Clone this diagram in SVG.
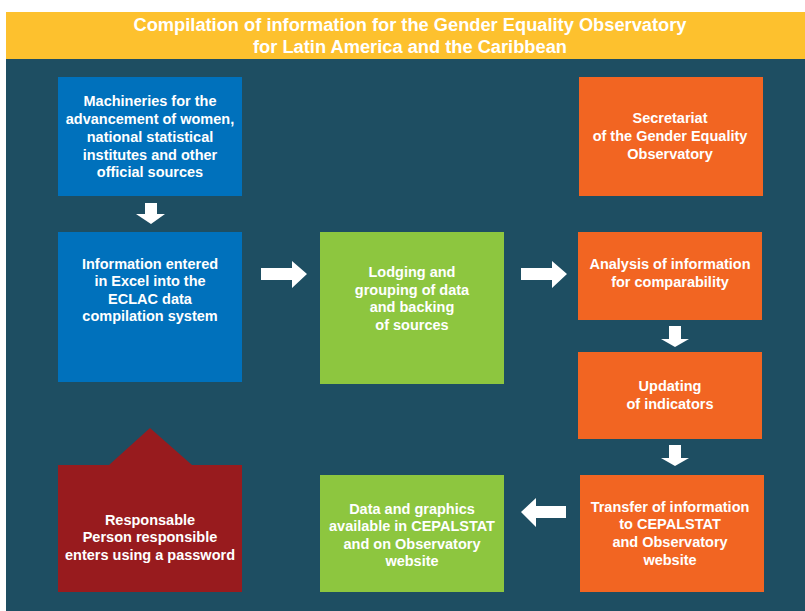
<svg xmlns="http://www.w3.org/2000/svg" width="805" height="611" viewBox="0 0 805 611">
<style>
.t{font-family:"Liberation Sans",Arial,sans-serif;font-weight:bold;font-size:14.5px;fill:#ffffff;text-anchor:middle}
.h{font-family:"Liberation Sans Narrow","Liberation Sans",Arial,sans-serif;font-weight:bold;font-size:18px;fill:#ffffff;text-anchor:middle}
.blue{fill:#0071BC}.green{fill:#8DC63F}.orange{fill:#F26522}.red{fill:#981B1E}
.arr{fill:#ffffff}
</style>
<rect x="0" y="0" width="805" height="611" fill="#ffffff"/>
<rect x="6" y="59" width="799" height="552" fill="#1E4E62"/>
<g id="title">
<rect x="6" y="12" width="799" height="47" fill="#FDC12E"/>
<text class="h" x="410" y="31" textLength="553" lengthAdjust="spacingAndGlyphs">Compilation of information for the Gender Equality Observatory</text>
<text class="h" x="410" y="53" textLength="314" lengthAdjust="spacingAndGlyphs">for Latin America and the Caribbean</text>
</g>
<g id="machineries">
<rect class="blue" x="58" y="77" width="184" height="119"/>
<text class="t" x="150" y="106">Machineries for the</text>
<text class="t" x="150" y="124">advancement of women,</text>
<text class="t" x="150" y="142">national statistical</text>
<text class="t" x="150" y="160">institutes and other</text>
<text class="t" x="150" y="177">official sources</text>
</g>
<g id="info-entered">
<rect class="blue" x="58" y="232" width="184" height="150"/>
<text class="t" x="150" y="269">Information entered</text>
<text class="t" x="150" y="286">in Excel into the</text>
<text class="t" x="150" y="304">ECLAC data</text>
<text class="t" x="150" y="321">compilation system</text>
</g>
<g id="lodging">
<rect class="green" x="320" y="232" width="184" height="152"/>
<text class="t" x="412" y="277">Lodging and</text>
<text class="t" x="412" y="295">grouping of data</text>
<text class="t" x="412" y="312">and backing</text>
<text class="t" x="412" y="330">of sources</text>
</g>
<g id="secretariat">
<rect class="orange" x="579" y="77" width="184" height="119"/>
<text class="t" x="670" y="123">Secretariat</text>
<text class="t" x="670" y="141">of the Gender Equality</text>
<text class="t" x="670" y="159">Observatory</text>
</g>
<g id="analysis">
<rect class="orange" x="578" y="232" width="184" height="88"/>
<text class="t" x="670" y="269">Analysis of information</text>
<text class="t" x="670" y="287">for comparability</text>
</g>
<g id="updating">
<rect class="orange" x="578" y="352" width="184" height="87"/>
<text class="t" x="670" y="391">Updating</text>
<text class="t" x="670" y="409">of indicators</text>
</g>
<g id="transfer">
<rect class="orange" x="580" y="475" width="184" height="117"/>
<text class="t" x="670" y="512">Transfer of information</text>
<text class="t" x="670" y="529">to CEPALSTAT</text>
<text class="t" x="670" y="547">and Observatory</text>
<text class="t" x="670" y="565">website</text>
</g>
<g id="data-graphics">
<rect class="green" x="320" y="475" width="184" height="117"/>
<text class="t" x="412" y="514">Data and graphics</text>
<text class="t" x="412" y="531">available in CEPALSTAT</text>
<text class="t" x="412" y="549">and on Observatory</text>
<text class="t" x="412" y="566">website</text>
</g>
<g id="responsable">
<polygon class="red" points="58,465 109,465 150,428 192,465 242,465 242,592 58,592"/>
<text class="t" x="150" y="525">Responsable</text>
<text class="t" x="150" y="542">Person responsible</text>
<text class="t" x="150" y="560">enters using a password</text>
</g>
<g id="connectors">
<polygon class="arr" points="145,203 157,203 157,214 165,214 151,224 136,214 145,214"/>
<polygon class="arr" points="261,268 292,268 292,261 307,274 292,288 292,280 261,280"/>
<polygon class="arr" points="521,268 552,268 552,261 567,274 552,288 552,280 521,280"/>
<polygon class="arr" points="669,326 681,326 681,339 689,339 675,347 661,339 669,339"/>
<polygon class="arr" points="669,445 681,445 681,458 689,458 675,466 661,458 669,458"/>
<polygon class="arr" points="566,506 536,506 536,498 521,512 536,527 536,518 566,518"/>
</g>
</svg>
